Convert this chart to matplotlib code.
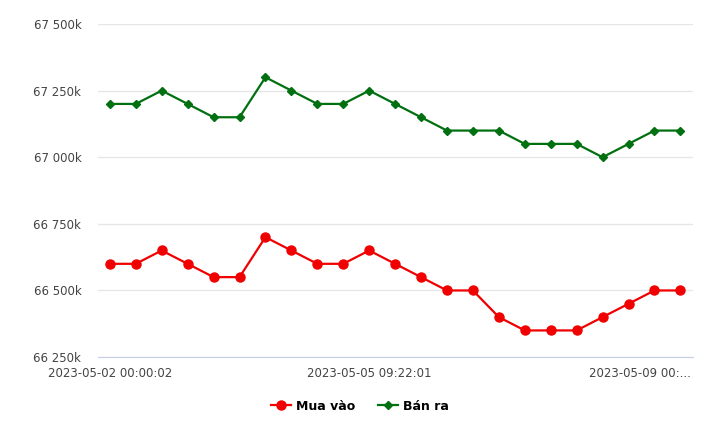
import matplotlib.pyplot as plt
from matplotlib.ticker import FuncFormatter
from matplotlib.transforms import ScaledTranslation

# ── Data (thousand VND) ─────────────────────────────────────────────────────
mua_vao = [66600, 66600, 66650, 66600, 66550, 66550, 66700, 66650, 66600, 66600,
           66650, 66600, 66550, 66500, 66500, 66400, 66350, 66350, 66350, 66400,
           66450, 66500, 66500]
ban_ra = [67200, 67200, 67250, 67200, 67150, 67150, 67300, 67250, 67200, 67200,
          67250, 67200, 67150, 67100, 67100, 67100, 67050, 67050, 67050, 67000,
          67050, 67100, 67100]
tick_pos = [0, 10, 22]
tick_labels = ['2023-05-02 00:00:02', '2023-05-05 09:22:01', '2023-05-09 00:...']
y_ticks = [66250, 66500, 66750, 67000, 67250, 67500]

x = list(range(len(mua_vao)))

fig = plt.figure(figsize=(7.2, 4.36), dpi=100)
ax = fig.add_axes([0.136, 0.181, 0.827, 0.764])

ax.plot(x, mua_vao, color='#f00000', marker='o', markersize=6.5,
        linewidth=1.6, label='Mua vào', zorder=3)
ax.plot(x, ban_ra, color='#007010', marker='D', markersize=4.5,
        linewidth=1.6, label='Bán ra', zorder=3)

ax.set_xlim(-0.46, 22.5)
ax.set_ylim(66250, 67500)
ax.set_yticks(y_ticks)
ax.yaxis.set_major_formatter(FuncFormatter(
    lambda v, _: f'{int(v):,}k'.replace(',', ' ')))
ax.grid(axis='y', color='#e6e6e6', linewidth=1)
ax.set_axisbelow(True)

ax.set_xticks(tick_pos)
ax.set_xticklabels(tick_labels)
for side in ['top', 'right', 'left']:
    ax.spines[side].set_visible(False)
ax.spines['bottom'].set_color('#c5cfe8')
ax.tick_params(axis='both', length=0, labelsize=8.5, labelcolor='#444444')
ax.tick_params(axis='x', pad=7)
ax.tick_params(axis='y', pad=12)

# last label is cut off by the chart edge, so right-align it
last = ax.get_xticklabels()[-1]
last.set_horizontalalignment('right')
last.set_transform(last.get_transform() + ScaledTranslation(0.1, 0, fig.dpi_scale_trans))

leg = fig.legend(loc='center', bbox_to_anchor=(0.5, 0.068), ncol=2, frameon=False,
                 prop={'weight': 'bold', 'size': 9}, handlelength=1.6,
                 columnspacing=1.8, handletextpad=0.4)

fig.savefig('out.png', dpi=100)
